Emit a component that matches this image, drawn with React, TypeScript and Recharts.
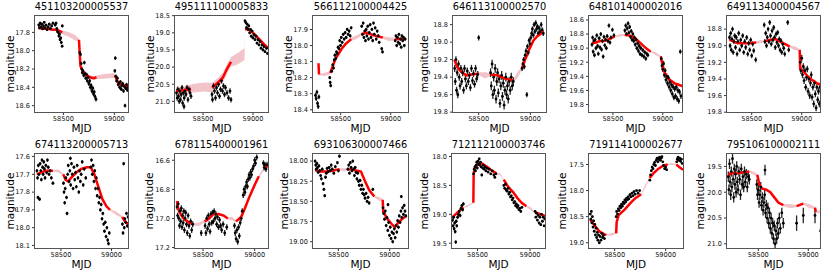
import { ComposedChart, XAxis, YAxis, Scatter, ErrorBar, Line, Area } from 'recharts';

// [mjd, magnitude, error]
type Obs = [number, number, number][];
// [mjd, model magnitude, band half-width, observed season (1) or gap (0)]
type Model = [number, number, number, number][];

const xTicks = [58500, 59000];

const p1Obs: Obs = [
  [58258, 17.72, .015], [58265, 17.75, .015], [58272, 17.70, .015], [58280, 17.74, .015], [58288, 17.71, .015],
  [58296, 17.76, .015], [58305, 17.73, .015], [58312, 17.69, .015], [58320, 17.75, .015], [58330, 17.72, .015],
  [58340, 17.77, .015], [58350, 17.74, .015], [58362, 17.71, .015], [58372, 17.76, .015], [58385, 17.73, .015],
  [58398, 17.70, .015], [58420, 17.72, .015], [58428, 17.70, .015], [58436, 17.76, .015], [58442, 17.79, .015],
  [58450, 17.80, .015], [58456, 17.84, .015], [58462, 17.82, .015], [58468, 17.88, .015], [58474, 17.86, .015],
  [58480, 17.91, .015], [58488, 17.95, .015], [58490, 17.73, .015],
  [58660, 18.02, .02], [58668, 18.04, .02], [58675, 18.14, .02], [58680, 18.20, .02], [58686, 18.24, .02],
  [58692, 18.22, .02], [58700, 18.27, .02], [58706, 18.13, .02], [58712, 18.25, .02], [58720, 18.30, .02],
  [58728, 18.26, .02], [58735, 18.33, .02], [58742, 18.29, .02], [58750, 18.36, .025], [58758, 18.33, .025],
  [58765, 18.40, .025], [58772, 18.38, .025], [58780, 18.44, .025], [58788, 18.41, .025], [58795, 18.47, .025],
  [58803, 18.45, .025], [58810, 18.50, .025], [58820, 18.53, .025],
  [59005, 18.22, .02], [59010, 18.08, .02], [59015, 18.28, .02], [59022, 18.33, .02], [59030, 18.30, .02],
  [59038, 18.37, .02], [59045, 18.35, .02], [59052, 18.40, .02], [59060, 18.34, .02], [59068, 18.42, .02],
  [59075, 18.38, .02], [59082, 18.36, .02], [59090, 18.44, .02], [59098, 18.39, .02], [59105, 18.60, .02],
  [59112, 18.41, .02], [59120, 18.37, .02], [59128, 18.43, .02], [59136, 18.40, .02],
];
const p1Model: Model = [
  [58255, 17.75, .015, 1], [58300, 17.76, .015, 1], [58350, 17.76, .015, 1], [58400, 17.77, .015, 1],
  [58440, 17.77, .015, 1], [58470, 17.79, .015, 1], [58490, 17.8, .02, 1], [58550, 17.82, .025, 0],
  [58620, 17.86, .03, 0], [58653, 17.88, .01, 1], [58660, 18.02, .01, 1], [58668, 18.17, .02, 1],
  [58690, 18.22, .02, 1], [58720, 18.26, .02, 1], [58760, 18.29, .02, 1], [58800, 18.30, .02, 1],
  [58825, 18.29, .02, 1], [58900, 18.28, .025, 0], [58990, 18.27, .025, 0], [59005, 18.27, .02, 1],
  [59030, 18.33, .02, 1], [59060, 18.37, .02, 1], [59100, 18.38, .02, 1], [59140, 18.39, .02, 1],
];

const p2Obs: Obs = [
  [58235, 20.75, .08], [58242, 20.9, .08], [58248, 20.65, .08], [58255, 20.85, .08], [58262, 21.0, .08],
  [58268, 20.7, .08], [58275, 20.95, .08], [58282, 20.8, .08], [58290, 20.6, .08], [58296, 21.05, .08],
  [58304, 20.75, .08], [58310, 21.15, .08], [58312, 20.9, .08], [58320, 20.7, .08], [58330, 20.8, .08],
  [58340, 20.6, .08], [58350, 20.95, .08], [58360, 20.65, .08], [58370, 20.75, .08], [58380, 20.85, .08],
  [58590, 20.8, .08], [58595, 20.95, .08], [58605, 20.55, .08], [58615, 20.7, .08], [58625, 20.9, .08],
  [58635, 20.6, .08], [58645, 20.75, .08], [58655, 20.5, .08], [58665, 20.85, .08], [58675, 20.65, .08],
  [58685, 20.4, .08], [58695, 20.7, .08], [58705, 20.55, .08], [58715, 20.8, .08], [58725, 20.6, .08],
  [58740, 20.75, .08], [58755, 20.9, .08], [58770, 20.7, .08], [58780, 20.95, .08],
  [58920, 18.65, .04], [58928, 18.7, .04], [58935, 18.85, .04], [58942, 18.75, .04], [58950, 18.9, .04],
  [58958, 18.8, .04], [58966, 19.0, .04], [58975, 18.9, .04], [58983, 19.1, .04], [58992, 18.95, .04],
  [59000, 19.15, .04], [59010, 19.05, .04], [59020, 19.2, .04], [59030, 19.1, .04], [59040, 19.3, .04],
  [59050, 19.2, .04], [59060, 19.35, .04], [59070, 19.25, .04], [59080, 19.45, .04], [59090, 19.35, .04],
  [59100, 19.5, .04], [59110, 19.4, .04], [59120, 19.55, .04], [59135, 19.45, .04], [59145, 19.6, .04],
];
const p2Model: Model = [
  [58230, 20.7, .12, 1], [58260, 20.7, .12, 1], [58300, 20.68, .12, 1], [58340, 20.66, .12, 1],
  [58380, 20.63, .12, 1], [58450, 20.6, .13, 0], [58520, 20.58, .13, 0], [58590, 20.6, .14, 1],
  [58650, 20.45, .14, 1], [58700, 20.3, .14, 1], [58740, 20.05, .14, 1], [58780, 19.85, .14, 1],
  [58850, 19.75, .17, 0], [58915, 19.62, .17, 0], [58920, 18.9, .05, 1], [58950, 18.88, .05, 1],
  [59000, 19.0, .05, 1], [59050, 19.15, .05, 1], [59100, 19.3, .05, 1], [59150, 19.45, .05, 1],
];

const p3Obs: Obs = [
  [58248, 18.31, .015], [58255, 18.33, .015], [58262, 18.29, .015], [58268, 18.36, .015], [58275, 18.38, .015],
  [58282, 18.32, .015],
  [58390, 18.2, .01], [58395, 18.23, .01], [58400, 18.25, .01], [58410, 18.16, .01], [58420, 18.12, .01],
  [58428, 18.14, .01], [58435, 18.09, .01], [58442, 18.06, .01], [58450, 18.08, .01], [58458, 18.04, .01],
  [58466, 18.05, .01], [58474, 18.01, .01], [58482, 18.02, .01], [58490, 17.97, .01], [58498, 18.0, .01],
  [58506, 17.95, .01], [58515, 17.98, .01], [58525, 17.93, .01], [58535, 17.96, .01], [58545, 17.92, .01],
  [58555, 17.95, .01], [58565, 17.9, .01], [58575, 17.93, .01], [58585, 17.91, .01], [58595, 17.94, .01],
  [58605, 17.89, .01],
  [58710, 17.88, .01], [58718, 17.93, .01], [58725, 17.86, .01], [58732, 17.95, .01], [58740, 17.91, .01],
  [58748, 17.97, .01], [58755, 17.9, .01], [58762, 17.94, .01], [58770, 17.88, .01], [58778, 17.96, .01],
  [58786, 17.92, .01], [58795, 17.87, .01], [58803, 17.95, .01], [58812, 17.9, .01], [58820, 17.97, .01],
  [58828, 17.86, .01], [58836, 17.93, .01], [58845, 17.89, .01], [58855, 17.96, .01], [58865, 17.91, .01],
  [58875, 17.94, .01], [58885, 17.98, .01], [58910, 18.02, .01], [58918, 18.04, .01],
  [59045, 17.97, .01], [59052, 17.94, .01], [59060, 18.0, .01], [59068, 17.95, .01], [59075, 17.98, .01],
  [59082, 17.93, .01], [59090, 17.99, .01], [59098, 17.96, .01], [59105, 18.01, .01], [59112, 17.94, .01],
  [59120, 17.97, .01], [59128, 17.95, .01], [59136, 18.0, .01], [59145, 17.96, .01],
];
const p3Model: Model = [
  [58278, 18.11, .005, 1], [58283, 18.18, .005, 1], [58340, 18.18, .01, 0], [58395, 18.17, .01, 1],
  [58420, 18.13, .01, 1], [58450, 18.08, .01, 1], [58480, 18.05, .01, 1], [58510, 18.02, .01, 1],
  [58550, 17.99, .01, 1], [58605, 17.96, .01, 1], [58650, 17.95, .012, 0], [58710, 17.93, .008, 1],
  [58760, 17.92, .008, 1], [58800, 17.93, .008, 1], [58850, 17.94, .008, 1], [58920, 17.95, .008, 1],
  [58980, 17.96, .012, 0], [59045, 17.96, .008, 1], [59100, 17.96, .008, 1], [59150, 17.96, .008, 1],
];

const p4Obs: Obs = [
  [58268, 19.3, .04], [58274, 19.45, .04], [58280, 19.2, .04], [58286, 19.55, .04], [58292, 19.35, .04],
  [58298, 19.6, .04], [58305, 19.25, .04], [58312, 19.4, .04], [58320, 19.5, .04], [58328, 19.3, .04],
  [58336, 19.45, .04], [58345, 19.35, .04], [58354, 19.55, .04], [58363, 19.3, .04], [58372, 19.42, .04],
  [58381, 19.5, .04], [58390, 19.33, .04], [58400, 19.45, .04], [58410, 19.38, .04], [58420, 19.52, .04],
  [58430, 19.3, .04], [58440, 19.44, .04], [58450, 19.36, .04], [58460, 19.48, .04], [58470, 19.3, .04],
  [58480, 19.42, .04], [58490, 19.37, .04], [58500, 18.95, .03],
  [58615, 19.35, .05], [58622, 19.5, .05], [58630, 19.25, .05], [58637, 19.6, .05], [58645, 19.4, .05],
  [58652, 19.55, .05], [58660, 19.3, .05], [58668, 19.65, .05], [58675, 19.45, .05], [58683, 19.35, .05],
  [58690, 19.58, .05], [58698, 19.42, .05], [58706, 19.7, .05], [58714, 19.5, .05], [58722, 19.38, .05],
  [58730, 19.62, .05], [58738, 19.47, .05], [58746, 19.72, .05], [58754, 19.55, .05], [58762, 19.4, .05],
  [58770, 19.6, .05], [58778, 19.5, .05], [58786, 19.65, .05], [58795, 19.45, .05], [58805, 19.55, .05],
  [58815, 19.4, .05], [58825, 19.5, .05], [58835, 19.45, .05],
  [58920, 19.3, .03], [58928, 19.25, .03], [58935, 19.2, .03], [58942, 19.28, .03], [58950, 19.15, .03],
  [58958, 19.1, .03], [58966, 19.6, .03], [58972, 19.05, .03], [58980, 19.12, .03], [58988, 18.98, .03],
  [58996, 19.02, .03], [59004, 18.95, .03], [59012, 18.9, .03], [59020, 18.85, .03], [59028, 18.92, .03],
  [59036, 18.8, .03], [59044, 18.88, .03], [59052, 18.78, .03], [59060, 18.85, .03], [59068, 18.82, .03],
  [59076, 18.9, .03], [59085, 18.84, .03], [59095, 18.88, .03], [59105, 18.8, .03], [59115, 18.86, .03],
  [59125, 18.9, .03],
];
const p4Model: Model = [
  [58265, 19.2, .015, 1], [58290, 19.28, .015, 1], [58330, 19.34, .015, 1], [58380, 19.38, .015, 1],
  [58430, 19.37, .015, 1], [58500, 19.36, .015, 1], [58560, 19.38, .035, 0], [58615, 19.37, .015, 1],
  [58680, 19.38, .015, 1], [58740, 19.41, .015, 1], [58800, 19.43, .015, 1], [58835, 19.44, .015, 1],
  [58880, 19.37, .035, 0], [58918, 19.3, .015, 1], [58950, 19.2, .015, 1], [58990, 19.08, .015, 1],
  [59030, 18.98, .015, 1], [59070, 18.93, .015, 1], [59130, 18.88, .015, 1],
];

const p5Obs: Obs = [
  [58290, 18.95, .03], [58296, 18.85, .03], [58302, 19.05, .03], [58308, 18.9, .03], [58315, 19.1, .03],
  [58322, 18.88, .03], [58330, 19.0, .03], [58338, 18.82, .03], [58346, 18.97, .03], [58354, 19.08, .03],
  [58362, 18.86, .03], [58370, 18.99, .03], [58378, 18.8, .03], [58386, 19.02, .03], [58394, 18.9, .03],
  [58402, 19.12, .03], [58410, 18.84, .03], [58418, 18.96, .03], [58426, 18.88, .03], [58434, 19.0, .03],
  [58442, 18.83, .03], [58450, 18.9, .03], [58460, 18.68, .03], [58470, 18.92, .03], [58480, 18.85, .03],
  [58495, 18.74, .03], [58510, 18.82, .03],
  [58620, 18.75, .03], [58628, 18.68, .03], [58636, 18.8, .03], [58644, 18.72, .03], [58652, 18.65, .03],
  [58660, 18.78, .03], [58668, 18.7, .03], [58676, 18.84, .03], [58684, 18.76, .03], [58692, 18.88, .03],
  [58700, 18.8, .03], [58708, 18.9, .03], [58716, 18.85, .03], [58724, 18.95, .03], [58732, 18.88, .03],
  [58740, 19.0, .03], [58748, 18.93, .03], [58756, 19.04, .03], [58764, 18.97, .03], [58772, 19.08, .03],
  [58780, 19.0, .03], [58790, 19.1, .03], [58800, 19.03, .03], [58810, 19.12, .03], [58820, 19.06, .03],
  [58830, 19.15, .03], [58840, 19.08, .03], [58850, 19.1, .03],
  [58985, 19.15, .04], [58992, 19.25, .04], [59000, 19.3, .04], [59008, 19.22, .04], [59016, 19.38, .04],
  [59024, 19.32, .04], [59032, 19.45, .04], [59040, 19.4, .04], [59048, 19.5, .04], [59056, 19.42, .04],
  [59064, 19.55, .04], [59072, 19.48, .04], [59080, 19.6, .04], [59088, 19.52, .04], [59096, 19.65, .04],
  [59104, 19.55, .04], [59112, 19.7, .04], [59120, 19.58, .04], [59128, 19.68, .04], [59136, 19.55, .04],
  [59144, 19.72, .04], [59152, 19.6, .04], [59160, 19.75, .04], [59168, 19.62, .04], [59176, 19.05, .03],
  [59182, 19.68, .04],
];
const p5Model: Model = [
  [58290, 18.93, .01, 1], [58330, 18.92, .01, 1], [58370, 18.9, .01, 1], [58410, 18.9, .01, 1],
  [58450, 18.88, .01, 1], [58490, 18.85, .01, 1], [58518, 18.84, .01, 1], [58570, 18.82, .02, 0],
  [58618, 18.81, .01, 1], [58660, 18.82, .01, 1], [58700, 18.84, .01, 1], [58740, 18.88, .01, 1],
  [58785, 18.94, .01, 1], [58830, 19.0, .01, 1], [58880, 19.05, .01, 1], [58930, 19.08, .02, 0],
  [58980, 19.12, .01, 1], [59000, 19.25, .01, 1], [59020, 19.35, .01, 1], [59050, 19.42, .01, 1],
  [59080, 19.46, .01, 1], [59120, 19.5, .01, 1], [59160, 19.52, .01, 1], [59200, 19.54, .01, 1],
];

const p6Obs: Obs = [
  [58278, 18.9, .03], [58284, 19.0, .03], [58290, 18.85, .03], [58296, 19.05, .03], [58302, 18.92, .03],
  [58308, 18.8, .03], [58315, 19.08, .03], [58322, 18.95, .03], [58330, 18.88, .03], [58338, 19.02, .03],
  [58346, 18.9, .03], [58354, 19.1, .03], [58362, 18.95, .03], [58370, 18.85, .03], [58380, 19.05, .03],
  [58390, 18.93, .03], [58400, 19.0, .03], [58410, 18.88, .03], [58420, 19.08, .03], [58430, 18.95, .03],
  [58440, 19.02, .03], [58450, 18.9, .03], [58460, 19.1, .03], [58470, 18.97, .03], [58480, 19.05, .03],
  [58490, 18.93, .03], [58500, 19.12, .03], [58510, 18.98, .03], [58520, 19.06, .03], [58540, 19.17, .03],
  [58625, 18.75, .03], [58632, 18.95, .03], [58640, 18.85, .03], [58648, 19.0, .03], [58656, 18.9, .03],
  [58664, 18.8, .03], [58672, 18.95, .03], [58680, 18.72, .03], [58688, 18.88, .03], [58696, 18.98, .03],
  [58704, 18.82, .03], [58712, 18.93, .03], [58720, 18.78, .03], [58728, 18.9, .03], [58736, 19.02, .03],
  [58744, 18.86, .03], [58752, 18.96, .03], [58760, 18.84, .03], [58768, 19.0, .03], [58776, 18.92, .03],
  [58784, 19.05, .03], [58792, 18.94, .03], [58800, 19.08, .03], [58810, 18.98, .03], [58820, 19.03, .03],
  [58830, 19.1, .03], [58860, 18.72, .03], [58870, 19.05, .03],
  [58985, 19.2, .04], [58992, 19.3, .04], [59000, 19.15, .04], [59008, 19.35, .04], [59016, 19.25, .04],
  [59024, 19.42, .04], [59032, 19.3, .04], [59040, 19.5, .04], [59048, 19.38, .04], [59056, 19.28, .04],
  [59064, 19.55, .04], [59072, 19.4, .04], [59080, 19.6, .04], [59088, 19.45, .04], [59096, 19.35, .04],
  [59104, 19.62, .04], [59112, 19.5, .04], [59120, 19.7, .04], [59128, 19.45, .04], [59136, 19.58, .04],
  [59144, 19.75, .04], [59152, 19.5, .04], [59160, 19.65, .04], [59168, 19.55, .04], [59176, 19.7, .04],
  [59184, 19.5, .04],
];
const p6Model: Model = [
  [58278, 18.93, .01, 1], [58320, 18.95, .01, 1], [58360, 18.97, .01, 1], [58420, 18.97, .01, 1],
  [58480, 18.97, .01, 1], [58545, 18.96, .01, 1], [58590, 18.95, .02, 0], [58625, 18.95, .01, 1],
  [58680, 18.93, .01, 1], [58740, 18.92, .01, 1], [58800, 18.96, .01, 1], [58850, 18.99, .01, 1],
  [58880, 19.01, .01, 1], [58930, 19.03, .025, 0], [58980, 19.05, .01, 1], [58985, 19.28, .01, 1],
  [59020, 19.31, .01, 1], [59060, 19.37, .01, 1], [59100, 19.41, .01, 1], [59150, 19.45, .01, 1],
  [59190, 19.47, .01, 1],
];

const p7Obs: Obs = [
  [58262, 17.68, .01], [58268, 17.72, .01], [58272, 17.83, .01], [58276, 17.65, .01], [58282, 17.7, .01],
  [58288, 17.84, .01], [58294, 17.64, .01], [58300, 17.68, .01], [58306, 17.73, .01], [58312, 17.62, .01],
  [58318, 17.66, .01], [58324, 17.7, .01], [58330, 17.63, .01], [58336, 17.67, .01], [58342, 17.72, .01],
  [58350, 17.65, .01], [58358, 17.69, .01], [58366, 17.62, .01], [58374, 17.66, .01], [58382, 17.7, .01],
  [58392, 17.68, .01], [58405, 17.72, .01], [58420, 17.75, .01],
  [58525, 17.75, .01], [58530, 17.8, .01], [58536, 17.86, .01], [58542, 17.78, .01], [58548, 17.72, .01],
  [58555, 17.83, .01], [58560, 17.92, .01], [58566, 17.7, .01], [58572, 17.65, .01], [58580, 17.74, .01],
  [58588, 17.68, .01], [58593, 17.61, .01], [58596, 17.76, .01], [58604, 17.64, .01], [58612, 17.7, .01],
  [58620, 17.78, .01], [58628, 17.66, .01], [58636, 17.73, .01], [58644, 17.69, .01], [58652, 17.77, .01],
  [58660, 17.65, .01], [58668, 17.72, .01], [58676, 17.8, .01], [58684, 17.68, .01], [58692, 17.74, .01],
  [58700, 17.7, .01], [58710, 17.63, .01], [58720, 17.76, .01], [58730, 17.67, .01], [58745, 17.72, .01],
  [58795, 17.66, .01], [58802, 17.62, .01], [58810, 17.7, .01], [58818, 17.65, .01], [58826, 17.74, .01],
  [58834, 17.68, .01], [58842, 17.78, .01], [58850, 17.72, .01], [58858, 17.82, .01], [58866, 17.78, .01],
  [58874, 17.86, .01], [58882, 17.83, .01], [58890, 17.9, .01], [58898, 17.87, .01], [58906, 17.95, .01],
  [58914, 17.92, .01], [58922, 17.98, .01], [58930, 18.02, .01], [58938, 17.97, .01], [58946, 18.05, .01],
  [58954, 18.0, .01], [58962, 18.07, .01], [58970, 18.09, .01], [58978, 18.03, .01],
  [59108, 17.98, .01], [59114, 18.03, .01], [59120, 17.64, .01], [59126, 18.0, .01], [59132, 17.95, .01],
  [59140, 17.97, .01], [59148, 17.92, .01], [59156, 17.99, .01], [59164, 17.94, .01],
];
const p7Model: Model = [
  [58262, 17.7, .005, 1], [58300, 17.69, .005, 1], [58350, 17.68, .005, 1], [58420, 17.68, .005, 1],
  [58470, 17.68, .008, 0], [58522, 17.7, .005, 1], [58545, 17.73, .005, 1], [58570, 17.74, .005, 1],
  [58600, 17.72, .005, 1], [58650, 17.69, .005, 1], [58700, 17.67, .005, 1], [58755, 17.66, .005, 1],
  [58795, 17.66, .005, 1], [58830, 17.7, .005, 1], [58870, 17.77, .005, 1], [58910, 17.84, .005, 1],
  [58950, 17.88, .005, 1], [58985, 17.9, .005, 1], [59050, 17.92, .01, 0], [59105, 17.94, .005, 1],
  [59140, 17.97, .005, 1], [59170, 17.98, .005, 1],
];

const p8Obs: Obs = [
  [58248, 16.92, .02], [58254, 16.98, .02], [58260, 16.9, .02], [58266, 17.0, .02], [58272, 17.05, .02],
  [58278, 16.95, .02], [58284, 17.02, .02], [58290, 16.93, .02], [58296, 17.06, .02], [58302, 16.98, .02],
  [58308, 17.03, .02], [58314, 16.95, .02], [58320, 17.08, .02], [58326, 17.0, .02], [58332, 16.96, .02],
  [58340, 17.04, .02], [58348, 17.1, .02], [58356, 16.98, .02], [58364, 17.05, .02], [58372, 17.12, .02],
  [58380, 17.02, .02], [58390, 17.08, .02], [58400, 17.04, .02], [58483, 17.1, .02],
  [58520, 17.05, .02], [58528, 17.1, .02], [58536, 17.0, .02], [58544, 17.07, .02], [58552, 16.98, .02],
  [58560, 17.04, .02], [58568, 17.09, .02], [58576, 16.97, .02], [58584, 17.03, .02], [58592, 16.96, .02],
  [58600, 17.02, .02], [58608, 16.95, .02], [58616, 17.0, .02], [58624, 16.97, .02], [58632, 17.04, .02],
  [58640, 16.99, .02], [58650, 17.06, .02], [58660, 17.01, .02], [58670, 17.05, .02], [58680, 17.08, .02],
  [58695, 17.04, .02], [58710, 17.1, .02], [58730, 17.06, .02],
  [58805, 17.05, .02], [58812, 17.1, .02], [58820, 17.14, .02], [58828, 17.08, .02], [58836, 17.16, .02],
  [58844, 17.06, .02], [58852, 17.12, .02], [58860, 17.03, .02], [58870, 17.0, .02], [58880, 16.95, .02],
  [58890, 16.84, .02], [58898, 16.8, .02], [58906, 16.82, .02], [58914, 16.78, .02], [58922, 16.75, .02],
  [58930, 16.78, .02], [58938, 16.73, .02], [58946, 16.7, .02], [58954, 16.72, .02], [58962, 16.68, .02],
  [58970, 16.7, .02], [58980, 16.66, .02], [58990, 16.64, .02], [59000, 16.6, .02], [59008, 16.62, .02],
  [59020, 16.58, .02], [59085, 16.62, .02], [59092, 16.65, .02], [59100, 16.63, .02], [59110, 16.66, .02],
  [59120, 16.63, .02],
];
const p8Model: Model = [
  [58248, 16.88, .008, 1], [58258, 16.93, .008, 1], [58275, 16.96, .008, 1], [58310, 17.0, .008, 1],
  [58350, 17.02, .008, 1], [58400, 17.04, .008, 1], [58460, 17.04, .012, 0], [58515, 17.02, .008, 1],
  [58560, 17.0, .008, 1], [58600, 16.97, .008, 1], [58650, 16.97, .008, 1], [58700, 16.98, .008, 1],
  [58740, 17.0, .008, 1], [58780, 17.0, .012, 0], [58820, 17.02, .008, 1], [58870, 16.99, .008, 1],
  [58900, 16.94, .008, 1], [58950, 16.85, .008, 1], [59000, 16.77, .008, 1], [59040, 16.71, .008, 1],
  [59080, 16.67, .01, 0], [59110, 16.65, .008, 1], [59130, 16.63, .008, 1],
];

const p9Obs: Obs = [
  [58272, 18.0, .02], [58278, 18.05, .02], [58284, 18.1, .02], [58290, 18.03, .02], [58296, 18.08, .02],
  [58302, 18.14, .02], [58310, 18.06, .02], [58318, 18.12, .02], [58326, 18.18, .02], [58334, 18.22, .02],
  [58342, 18.1, .02], [58350, 18.28, .02], [58358, 18.35, .02], [58366, 18.43, .02], [58374, 18.2, .02],
  [58382, 18.15, .02], [58390, 18.09, .02], [58400, 18.13, .02], [58410, 18.08, .02], [58420, 18.12, .02],
  [58430, 18.05, .02], [58440, 18.1, .02], [58455, 18.15, .02], [58470, 18.07, .02], [58490, 18.02, .02],
  [58500, 18.12, .02], [58510, 17.94, .02],
  [58592, 18.1, .02], [58600, 18.05, .02], [58608, 18.15, .02], [58616, 18.02, .02], [58624, 18.08, .02],
  [58632, 18.12, .02], [58640, 18.0, .02], [58648, 18.1, .02], [58656, 18.18, .02], [58664, 18.08, .02],
  [58672, 18.14, .02], [58680, 18.22, .02], [58688, 18.15, .02], [58696, 18.25, .02], [58704, 18.3, .02],
  [58712, 18.24, .02], [58720, 18.35, .02], [58728, 18.3, .02], [58736, 18.4, .02], [58744, 18.35, .02],
  [58752, 18.42, .02], [58760, 18.46, .02], [58770, 18.4, .02], [58780, 18.5, .02], [58790, 18.45, .02],
  [58800, 18.52, .02], [58836, 18.35, .02],
  [58935, 18.58, .02], [58942, 18.65, .02], [58950, 18.72, .02], [58958, 18.62, .02], [58966, 18.8, .02],
  [58974, 18.7, .02], [58984, 18.54, .02], [58982, 18.86, .02], [58990, 18.76, .02], [58998, 18.92, .02],
  [59006, 18.82, .02], [59014, 18.96, .02], [59022, 18.88, .02], [59030, 19.0, .02], [59038, 18.9, .02],
  [59046, 18.84, .02], [59054, 18.95, .02], [59062, 18.8, .02], [59070, 18.88, .02], [59078, 18.74, .02],
  [59086, 18.82, .02], [59094, 18.68, .02], [59102, 18.76, .02], [59110, 18.62, .02], [59114, 18.44, .02],
  [59118, 18.7, .02], [59126, 18.58, .02], [59134, 18.66, .02], [59142, 18.55, .02], [59150, 18.62, .02],
  [59158, 18.68, .02],
];
const p9Model: Model = [
  [58272, 18.11, .01, 1], [58320, 18.13, .01, 1], [58380, 18.13, .01, 1], [58440, 18.12, .01, 1],
  [58510, 18.1, .01, 1], [58555, 18.11, .02, 0], [58592, 18.1, .01, 1], [58650, 18.11, .01, 1],
  [58720, 18.13, .01, 1], [58760, 18.25, .01, 1], [58800, 18.36, .01, 1], [58850, 18.44, .01, 1],
  [58900, 18.47, .025, 0], [58932, 18.48, .01, 1], [58938, 18.63, .01, 1], [58980, 18.72, .01, 1],
  [59020, 18.78, .01, 1], [59050, 18.82, .01, 1], [59080, 18.77, .01, 1], [59120, 18.72, .01, 1],
  [59160, 18.68, .01, 1],
];

const p10Obs: Obs = [
  [58262, 19.1, .03], [58267, 19.2, .03], [58272, 19.05, .03], [58277, 19.25, .03], [58282, 19.15, .03],
  [58287, 19.3, .03], [58292, 19.48, .03], [58297, 19.12, .03], [58302, 19.2, .03], [58310, 19.05, .03],
  [58318, 19.0, .03], [58326, 18.95, .03], [58334, 19.02, .03], [58342, 18.9, .03], [58350, 18.85, .03],
  [58358, 18.92, .03], [58365, 18.82, .03],
  [58462, 18.3, .02], [58468, 18.22, .02], [58474, 18.18, .02], [58480, 18.25, .02], [58486, 18.15, .02],
  [58492, 18.1, .02], [58498, 18.2, .02], [58504, 18.08, .02], [58510, 18.13, .02], [58516, 18.04, .02],
  [58522, 18.15, .02], [58528, 18.1, .02], [58534, 18.18, .02], [58540, 18.32, .02], [58548, 18.2, .02],
  [58556, 18.15, .02], [58564, 18.22, .02], [58572, 18.18, .02], [58580, 18.25, .02], [58590, 18.2, .02],
  [58600, 18.27, .02], [58610, 18.22, .02], [58625, 18.3, .02], [58640, 18.25, .02], [58655, 18.32, .02],
  [58665, 18.36, .02], [58675, 18.3, .02],
  [58750, 18.5, .02], [58758, 18.55, .02], [58766, 18.48, .02], [58774, 18.58, .02], [58782, 18.6, .02],
  [58790, 18.55, .02], [58798, 18.65, .02], [58806, 18.62, .02], [58814, 18.7, .02], [58822, 18.68, .02],
  [58830, 18.75, .02], [58838, 18.72, .02], [58846, 18.8, .02], [58854, 18.78, .02], [58862, 18.85, .02],
  [58870, 18.82, .02], [58878, 18.88, .02], [58886, 18.85, .02], [58894, 18.92, .02], [58902, 18.9, .02],
  [58912, 18.95, .02], [58922, 18.88, .02],
  [59048, 18.95, .02], [59055, 19.05, .02], [59062, 18.98, .02], [59070, 19.1, .02], [59078, 19.02, .02],
  [59086, 19.15, .02], [59094, 19.05, .02], [59102, 19.18, .02], [59110, 19.0, .02], [59118, 19.12, .02],
  [59126, 19.05, .02], [59134, 19.2, .02], [59140, 19.08, .02],
];
const p10Model: Model = [
  [58262, 19.05, .01, 1], [58290, 19.0, .01, 1], [58320, 18.95, .01, 1], [58365, 18.88, .01, 1],
  [58410, 18.85, .015, 0], [58460, 18.8, .01, 1], [58463, 18.3, .01, 1], [58470, 18.22, .01, 1],
  [58500, 18.14, .01, 1], [58540, 18.12, .01, 1], [58590, 18.18, .01, 1], [58640, 18.25, .01, 1],
  [58680, 18.29, .01, 1], [58715, 18.31, .02, 0], [58750, 18.4, .01, 1], [58790, 18.52, .01, 1],
  [58840, 18.62, .01, 1], [58880, 18.72, .01, 1], [58920, 18.8, .01, 1], [58965, 18.86, .01, 1],
  [59005, 18.9, .025, 0], [59048, 18.97, .01, 1], [59100, 19.0, .01, 1], [59142, 19.03, .01, 1],
];

const p11Obs: Obs = [
  [58262, 18.45, .02], [58267, 18.55, .02], [58272, 18.4, .02], [58277, 18.62, .02], [58282, 18.5, .02],
  [58288, 18.7, .02], [58294, 18.58, .02], [58300, 18.78, .02], [58306, 18.65, .02], [58312, 18.85, .02],
  [58318, 18.72, .02], [58324, 18.9, .02], [58330, 18.8, .02], [58336, 18.95, .02], [58342, 18.85, .02],
  [58350, 19.0, .02], [58358, 18.88, .02], [58366, 18.95, .02], [58374, 18.82, .02], [58382, 18.9, .02],
  [58390, 18.86, .02], [58400, 18.92, .02],
  [58515, 18.5, .02], [58520, 18.4, .02], [58528, 18.45, .02], [58536, 18.35, .02], [58544, 18.38, .02],
  [58552, 18.3, .02], [58560, 18.33, .02], [58568, 18.26, .02], [58576, 18.3, .02], [58584, 18.22, .02],
  [58592, 18.25, .02], [58600, 18.18, .02], [58608, 18.22, .02], [58616, 18.15, .02], [58624, 18.18, .02],
  [58632, 18.12, .02], [58640, 18.16, .02], [58650, 18.08, .02], [58660, 18.12, .02], [58670, 18.05, .02],
  [58680, 18.1, .02], [58690, 18.02, .02], [58700, 18.07, .02], [58715, 18.0, .02], [58730, 18.05, .02],
  [58745, 18.0, .02],
  [58845, 17.8, .015], [58852, 17.7, .015], [58860, 17.62, .015], [58868, 17.55, .015], [58876, 17.58, .015],
  [58884, 17.5, .015], [58892, 17.46, .015], [58900, 17.52, .015], [58908, 17.42, .015], [58916, 17.38, .015],
  [58924, 17.45, .015], [58932, 17.4, .015], [58940, 17.36, .015], [58948, 17.42, .015], [58956, 17.38, .015],
  [58964, 17.35, .015], [58972, 17.45, .015], [58980, 17.52, .015], [58990, 17.58, .015], [59000, 17.55, .015],
  [59010, 17.6, .015],
  [59108, 17.45, .015], [59115, 17.4, .015], [59122, 17.36, .015], [59130, 17.42, .015], [59138, 17.38, .015],
  [59146, 17.44, .015], [59154, 17.4, .015], [59162, 17.48, .015],
];
const p11Model: Model = [
  [58262, 18.56, .01, 1], [58300, 18.66, .01, 1], [58350, 18.78, .01, 1], [58400, 18.84, .01, 1],
  [58420, 18.85, .01, 1], [58470, 18.84, .025, 0], [58515, 18.82, .01, 1], [58520, 18.6, .01, 1],
  [58540, 18.47, .01, 1], [58600, 18.36, .01, 1], [58650, 18.25, .01, 1], [58700, 18.15, .01, 1],
  [58760, 18.07, .01, 1], [58800, 17.92, .03, 0], [58843, 17.76, .01, 1], [58880, 17.67, .01, 1],
  [58930, 17.58, .01, 1], [58980, 17.52, .01, 1], [59020, 17.5, .01, 1], [59060, 17.49, .02, 0],
  [59105, 17.5, .01, 1], [59140, 17.56, .01, 1], [59170, 17.6, .01, 1],
];

const p12Obs: Obs = [
  [58200, 19.7, .1], [58206, 19.95, .1], [58212, 19.45, .1], [58218, 19.8, .1], [58224, 20.05, .1],
  [58230, 19.6, .1], [58236, 19.9, .1], [58242, 19.35, .1], [58248, 19.75, .1], [58254, 20.1, .1],
  [58260, 19.55, .1], [58266, 19.85, .1], [58272, 19.65, .1], [58278, 20.0, .1], [58284, 19.5, .1],
  [58290, 19.8, .1], [58298, 19.95, .1], [58306, 19.6, .1], [58314, 19.75, .1], [58322, 20.05, .1],
  [58330, 19.55, .1], [58338, 19.85, .1], [58346, 19.7, .1], [58354, 19.9, .1], [58362, 19.6, .1],
  [58370, 19.8, .1], [58380, 19.65, .1], [58390, 19.9, .1], [58400, 19.7, .1], [58410, 19.75, .1],
  [58485, 19.85, .1], [58492, 20.05, .1], [58500, 19.95, .1], [58508, 20.2, .1], [58516, 20.05, .1],
  [58524, 19.9, .1], [58532, 20.25, .1], [58540, 20.1, .1], [58548, 20.35, .1], [58556, 20.2, .1],
  [58564, 20.05, .1], [58567, 19.57, .1], [58572, 20.4, .1], [58580, 20.25, .1], [58588, 20.5, .1],
  [58596, 20.3, .1], [58604, 20.6, .1], [58612, 20.4, .1], [58620, 20.7, .1], [58628, 20.5, .1],
  [58636, 20.8, .1], [58644, 20.6, .1], [58652, 20.9, .1], [58660, 20.65, .1], [58668, 21.0, .1],
  [58676, 20.75, .1], [58684, 20.9, .1], [58692, 20.6, .1], [58700, 20.8, .1], [58710, 20.5, .1],
  [58720, 20.7, .1], [58735, 20.4, .1], [58750, 20.6, .1],
  [58883, 20.6, .15], [58950, 20.45, .15], [59067, 20.45, .15], [59123, 20.75, .15],
];
const p12Model: Model = [
  [58200, 19.7, .02, 1], [58225, 19.62, .02, 1], [58270, 19.64, .02, 1], [58330, 19.62, .02, 1],
  [58410, 19.6, .02, 1], [58450, 19.63, .03, 0], [58490, 19.66, .02, 1], [58510, 19.85, .02, 1],
  [58540, 19.93, .02, 1], [58580, 19.95, .02, 1], [58620, 20.0, .02, 1], [58660, 20.1, .02, 1],
  [58700, 20.2, .02, 1], [58750, 20.25, .02, 1], [58820, 20.27, .04, 0], [58883, 20.27, .02, 1],
  [58950, 20.22, .02, 1], [59010, 20.27, .04, 0], [59067, 20.3, .02, 1], [59075, 20.38, .02, 1],
  [59120, 20.38, .03, 0],
];

type PanelDef = {
  id: string; obs: Obs; model: Model;
  x: [number, number]; y: [number, number]; ticks: number[]; dec: number;
  box: [number, number, number, number]; labelX: number;
};

const panels: PanelDef[] = [
  { id: '451103200005537', obs: p1Obs, model: p1Model, x: [58212, 59144], y: [17.61, 18.68], ticks: [17.8, 18.0, 18.2, 18.4, 18.6], dec: 1, box: [34, 15, 95, 98], labelX: 10 },
  { id: '495111100005833', obs: p2Obs, model: p2Model, x: [58210, 59160], y: [18.48, 21.34], ticks: [18.5, 19.0, 19.5, 20.0, 20.5, 21.0], dec: 1, box: [174, 15, 95, 98], labelX: 150 },
  { id: '566112100004425', obs: p3Obs, model: p3Model, x: [58213, 59183], y: [17.81, 18.42], ticks: [17.9, 18.0, 18.1, 18.2, 18.3, 18.4], dec: 1, box: [312, 15, 97, 98], labelX: 288 },
  { id: '646113100002570', obs: p4Obs, model: p4Model, x: [58242, 59161], y: [18.69, 19.81], ticks: [18.8, 19.0, 19.2, 19.4, 19.6, 19.8], dec: 1, box: [452, 15, 95, 98], labelX: 424 },
  { id: '648101400002016', obs: p5Obs, model: p5Model, x: [58250, 59203], y: [18.53, 19.92], ticks: [18.6, 18.8, 19.0, 19.2, 19.4, 19.6, 19.8], dec: 1, box: [588, 15, 95, 98], labelX: 562 },
  { id: '649113400004567', obs: p6Obs, model: p6Model, x: [58243, 59193], y: [18.63, 19.81], ticks: [18.8, 19.0, 19.2, 19.4, 19.6, 19.8], dec: 1, box: [726, 15, 95, 98], labelX: 700 },
  { id: '674113200005713', obs: p7Obs, model: p7Model, x: [58233, 59173], y: [17.58, 18.12], ticks: [17.6, 17.7, 17.8, 17.9, 18.0, 18.1], dec: 1, box: [34, 153, 95, 96], labelX: 10 },
  { id: '678115400001961', obs: p8Obs, model: p8Model, x: [58219, 59139], y: [16.55, 17.21], ticks: [16.6, 16.8, 17.0, 17.2], dec: 1, box: [174, 153, 95, 96], labelX: 149 },
  { id: '693106300007466', obs: p9Obs, model: p9Model, x: [58242, 59189], y: [17.90, 19.09], ticks: [18.0, 18.25, 18.5, 18.75, 19.0], dec: 2, box: [312, 153, 97, 96], labelX: 284 },
  { id: '712112100003746', obs: p10Obs, model: p10Model, x: [58247, 59152], y: [17.94, 19.60], ticks: [18.0, 18.5, 19.0, 19.5], dec: 1, box: [451, 153, 95, 96], labelX: 424 },
  { id: '719114100002677', obs: p11Obs, model: p11Model, x: [58239, 59180], y: [17.28, 19.12], ticks: [17.5, 18.0, 18.5, 19.0], dec: 1, box: [588, 153, 96, 96], labelX: 562 },
  { id: '795106100002111', obs: p12Obs, model: p12Model, x: [58177, 59127], y: [19.24, 21.10], ticks: [19.5, 20.0, 20.5, 21.0], dec: 1, box: [726, 153, 95, 96], labelX: 700 },
];

const font = 'DejaVu Sans';
const yw = 30;
const pad = 6;

function Dot(props: any) {
  return <circle cx={props.cx} cy={props.cy} r={1.4} fill="#000" />;
}

function makeYTick(dec: number) {
  return (props: any) => (
    <text x={props.x} y={props.y} dy="0.35em" textAnchor="end" fontSize={6.6} fill="#111" fontFamily={font}>
      {Number(props.payload.value).toFixed(dec)}
    </text>
  );
}

function XTick(props: any) {
  return (
    <text x={props.x} y={props.y} dy="0.75em" textAnchor="middle" fontSize={6.6} fill="#111" fontFamily={font}>
      {props.payload.value}
    </text>
  );
}

function Panel({ p }: { p: PanelDef }) {
  const [left, top, w, h] = p.box;
  const obsData = p.obs.map(([x, y, err]) => ({ x, y, err }));
  const modelData = p.model.map(([x, m, s, on]) => ({ x, band: [m - s, m + s], red: on ? m : null }));
  return (
    <>
      <div style={{ position: 'absolute', left: left - 10, width: w + 20, top: top - 15, lineHeight: '14px', textAlign: 'center', fontSize: 9.8 }}>
        {p.id}
      </div>
      <div style={{ position: 'absolute', left: p.labelX, top: top + h / 2, transform: 'translate(-50%, -50%) rotate(-90deg)', fontSize: 10.5, whiteSpace: 'nowrap' }}>
        magnitude
      </div>
      <div style={{ position: 'absolute', left, width: w, top: top + h + 9, lineHeight: '13px', textAlign: 'center', fontSize: 10.5 }}>
        MJD
      </div>
      <div style={{ position: 'absolute', left: left - yw, top: top - pad }}>
        <ComposedChart width={w + yw} height={h + 14 + pad} margin={{ top: pad, right: 0, bottom: 0, left: 0 }}>
          <XAxis
            type="number"
            dataKey="x"
            domain={p.x}
            allowDataOverflow
            ticks={xTicks}
            interval={0}
            height={14}
            axisLine={false}
            tickSize={2}
            tickMargin={1}
            tickLine={{ stroke: '#333' }}
            tick={XTick}
          />
          <YAxis
            type="number"
            dataKey="y"
            reversed
            domain={p.y}
            allowDataOverflow
            ticks={p.ticks}
            interval={0}
            width={yw}
            axisLine={false}
            tickSize={2}
            tickMargin={2}
            tickLine={{ stroke: '#333' }}
            tick={makeYTick(p.dec)}
          />
          <Area data={modelData} dataKey="band" type="linear" fill="#f3c3ca" fillOpacity={1} stroke="none" isAnimationActive={false} />
          <Scatter data={obsData} dataKey="y" shape={Dot} isAnimationActive={false}>
            <ErrorBar dataKey="err" direction="y" width={0} stroke="#262626" strokeWidth={1.3} />
          </Scatter>
          <Line data={modelData} dataKey="red" type="linear" stroke="#ff0000" strokeWidth={2.5} dot={false} connectNulls={false} isAnimationActive={false} />
        </ComposedChart>
      </div>
      <div style={{ position: 'absolute', left, top, width: w, height: h, border: '1px solid #555', boxSizing: 'border-box', pointerEvents: 'none' }} />
    </>
  );
}

export default function App() {
  return (
    <div style={{ position: 'relative', width: 830, height: 277, background: '#fff', fontFamily: font, color: '#000', overflow: 'hidden' }}>
      <style>{'body { margin: 0; }'}</style>
      {panels.map((p) => (
        <Panel key={p.id} p={p} />
      ))}
    </div>
  );
}
